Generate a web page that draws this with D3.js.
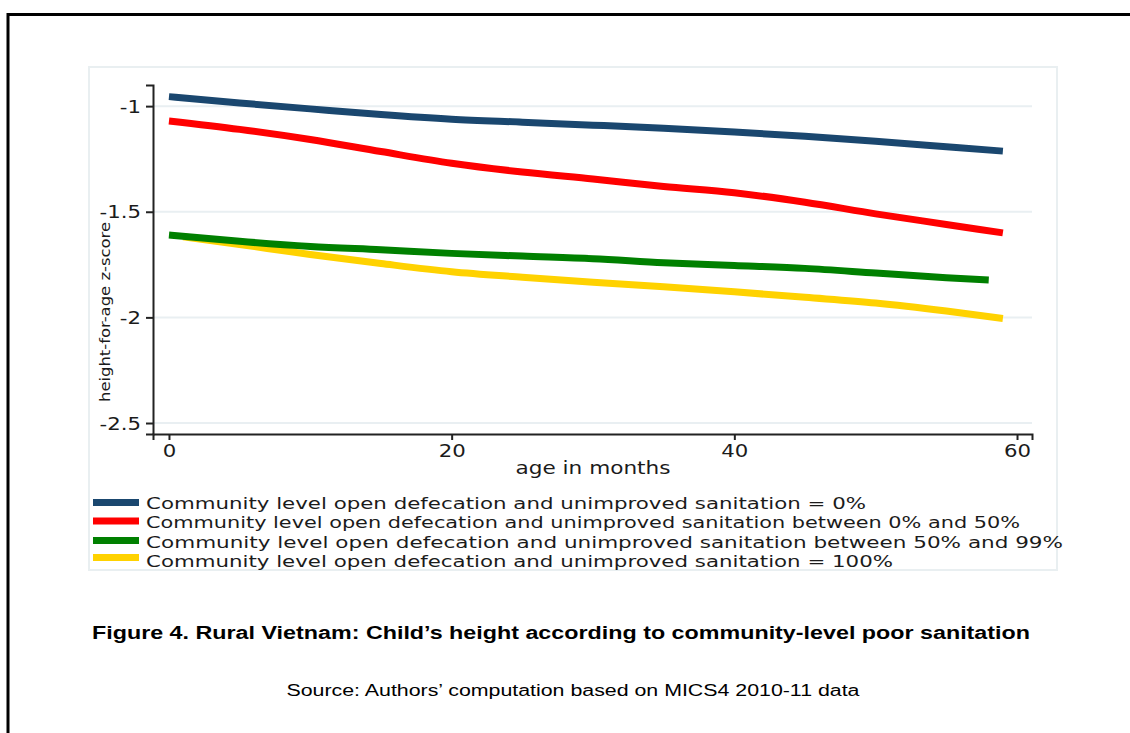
<!DOCTYPE html>
<html>
<head>
<meta charset="utf-8">
<script src="https://cdn.jsdelivr.net/npm/d3@7"></script>
<style>
html,body{margin:0;padding:0;background:#fff;}
svg{display:block;}
</style>
</head>
<body>
<svg id="chart" width="1130" height="733"></svg>
<script>
// ---- data ----
const seriesNames = [
  "Community level open defecation and unimproved sanitation = 0%",
  "Community level open defecation and unimproved sanitation between 0% and 50%",
  "Community level open defecation and unimproved sanitation between 50% and 99%",
  "Community level open defecation and unimproved sanitation = 100%"
];
const seriesColors = ["#1a476f", "#ff0000", "#008000", "#ffd200"];

const blueMonths = [0, 5, 10, 15, 20, 25, 30, 35, 40, 45, 50, 55, 59];
const blueValues = [-0.955, -0.985, -1.013, -1.04, -1.062, -1.076, -1.09, -1.105, -1.122, -1.143, -1.166, -1.192, -1.213];

const redMonths = [0, 5, 10, 15, 20, 25, 30, 35, 40, 45, 50, 55, 59];
const redValues = [-1.07, -1.11, -1.158, -1.215, -1.27, -1.312, -1.345, -1.38, -1.41, -1.455, -1.51, -1.56, -1.60];

const greenMonths = [0, 5, 10, 15, 20, 25, 30, 35, 40, 45, 50, 55, 58];
const greenValues = [-1.61, -1.64, -1.664, -1.68, -1.697, -1.71, -1.722, -1.741, -1.754, -1.768, -1.79, -1.812, -1.823];

const yellowMonths = [1, 5, 10, 15, 20, 25, 30, 35, 40, 45, 50, 55, 59];
const yellowValues = [-1.618, -1.655, -1.702, -1.745, -1.784, -1.81, -1.834, -1.855, -1.879, -1.905, -1.932, -1.97, -2.005];

const xTicks = [0, 20, 40, 60];
const yTicks = [-1, -1.5, -2, -2.5];
const xTitle = "age in months";
const yTitle = "height-for-age z-score";
const figTitle = "Figure 4. Rural Vietnam: Child\u2019s height according to community-level poor sanitation";
const sourceText = "Source: Authors\u2019 computation based on MICS4 2010-11 data";

// ---- drawing ----
const svg = d3.select("#chart");
const textColor = "#1b1b1b";
const font = "'DejaVu Sans', Verdana, sans-serif";
const H_STRETCH = 1.25; // the reference is stretched horizontally

function stretch(sel, factor) {
  sel.each(function () {
    const w = this.getComputedTextLength();
    d3.select(this).attr("textLength", w * factor).attr("lengthAdjust", "spacingAndGlyphs");
  });
}

// outer frame
svg.append("path").attr("d", "M8,740 L8,14.5 L1140,14.5")
  .attr("fill", "none").attr("stroke", "#000").attr("stroke-width", 3);

// graph region
svg.append("rect").attr("x", 89).attr("y", 67).attr("width", 968).attr("height", 503)
  .attr("fill", "#fff").attr("stroke", "#e9eff1").attr("stroke-width", 2);

const x = d3.scaleLinear().domain([-1.13, 61.06]).range([153, 1032]);
const y = d3.scaleLinear().domain([-0.9, -2.552]).range([85, 434]);

// gridlines
svg.append("g").selectAll("line").data(yTicks).join("line")
  .attr("x1", 154).attr("x2", 1032)
  .attr("y1", d => y(d)).attr("y2", d => y(d))
  .attr("stroke", "#e9eff2").attr("stroke-width", 2);

// axes
const yAxis = svg.append("g").attr("transform", "translate(153,0)")
  .call(d3.axisLeft(y).tickValues(yTicks).tickFormat(d => String(d)).tickSize(7).tickPadding(5));
const xAxis = svg.append("g").attr("transform", "translate(0,434)")
  .call(d3.axisBottom(x).tickValues(xTicks).tickFormat(d => String(d)).tickSize(6).tickPadding(5));
[yAxis, xAxis].forEach(g => {
  g.select(".domain").attr("stroke", "#222").attr("stroke-width", 2);
  g.selectAll(".tick line").attr("stroke", "#222").attr("stroke-width", 2);
  g.selectAll(".tick text").attr("fill", textColor).attr("font-family", font).attr("font-size", 17);
  stretch(g.selectAll(".tick text"), H_STRETCH);
});
yAxis.selectAll(".tick text").attr("dy", "0.36em");

// axis titles
svg.append("text").attr("x", 593).attr("y", 474).attr("text-anchor", "middle")
  .attr("font-family", font).attr("font-size", 17).attr("fill", textColor)
  .attr("textLength", 155).attr("lengthAdjust", "spacingAndGlyphs").text(xTitle);
svg.append("text").attr("transform", "translate(110,312) rotate(-90)").attr("text-anchor", "middle")
  .attr("font-family", font).attr("font-size", 14).attr("fill", textColor)
  .attr("textLength", 180).attr("lengthAdjust", "spacingAndGlyphs").text(yTitle);

// lines
const seriesData = [
  d3.zip(blueMonths, blueValues),
  d3.zip(redMonths, redValues),
  d3.zip(greenMonths, greenValues),
  d3.zip(yellowMonths, yellowValues)
];
const line = d3.line().x(d => x(d[0])).y(d => y(d[1])).curve(d3.curveMonotoneX);
const drawOrder = [3, 2, 1, 0];
svg.append("g").selectAll("path").data(drawOrder).join("path")
  .attr("d", i => line(seriesData[i]))
  .attr("fill", "none").attr("stroke", i => seriesColors[i])
  .attr("stroke-width", 7).attr("stroke-linecap", "butt").attr("stroke-linejoin", "round");

// legend
const swatchY = [502.5, 521, 540.5, 557.5];
const legTextY = [503, 522, 542, 561];
const legEndX = [866, 1020, 1063, 893];
const leg = svg.append("g").selectAll("g").data(seriesNames).join("g");
leg.append("line").attr("x1", 93).attr("x2", 139)
  .attr("y1", (d, i) => swatchY[i]).attr("y2", (d, i) => swatchY[i])
  .attr("stroke", (d, i) => seriesColors[i]).attr("stroke-width", 7);
leg.append("text").attr("x", 146).attr("y", (d, i) => legTextY[i]).attr("dy", "0.36em")
  .attr("font-family", font).attr("font-size", 16.5).attr("fill", textColor)
  .attr("textLength", (d, i) => legEndX[i] - 146).attr("lengthAdjust", "spacingAndGlyphs")
  .text(d => d);

// caption
svg.append("text").attr("x", 561).attr("y", 639).attr("text-anchor", "middle")
  .attr("font-family", "'Liberation Sans', Arial, sans-serif").attr("font-weight", "bold")
  .attr("font-size", 17.5).attr("fill", "#000")
  .attr("textLength", 938).attr("lengthAdjust", "spacingAndGlyphs").text(figTitle);
svg.append("text").attr("x", 573).attr("y", 696).attr("text-anchor", "middle")
  .attr("font-family", "'Liberation Sans', Arial, sans-serif")
  .attr("font-size", 16).attr("fill", "#000")
  .attr("textLength", 573).attr("lengthAdjust", "spacingAndGlyphs").text(sourceText);
</script>
</body>
</html>
